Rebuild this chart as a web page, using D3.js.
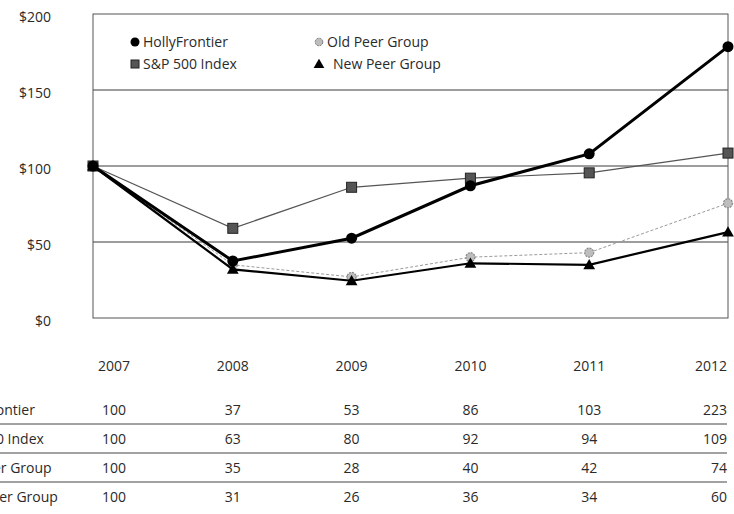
<!DOCTYPE html>
<html>
<head>
<meta charset="utf-8">
<script src="https://cdn.jsdelivr.net/npm/d3@7"></script>
<style>
  body { margin: 0; background: #fff; }
  text { font-family: "Open Sans", sans-serif; fill: #2a2a2a; }
</style>
</head>
<body>
<div class="container"></div>
<script>
// data
const years = ['2007', '2008', '2009', '2010', '2011', '2012'];
const seriesNames = ['HollyFrontier', 'S&P 500 Index', 'Old Peer Group', 'New Peer Group'];

// values as plotted on the chart
const hollyFrontier = [100, 37.5, 52.5, 87, 108, 178.5];
const sp500 = [100, 59, 86, 92, 95.5, 108.5];
const oldPeer = [100, 35, 27, 40, 43, 75.5];
const newPeer = [100, 32, 24.5, 36, 35, 56.5];

// values printed in the table
const hollyFrontierTable = [100, 37, 53, 86, 103, 223];
const sp500Table = [100, 63, 80, 92, 94, 109];
const oldPeerTable = [100, 35, 28, 40, 42, 74];
const newPeerTable = [100, 31, 26, 36, 34, 60];

const yTicks = [0, 50, 100, 150, 200];

const width = 734;
const height = 514;

const plot = { left: 93, right: 728, top: 14, bottom: 318 };

const svg = d3.select('.container')
    .append('svg')
    .attr('width', width)
    .attr('height', height);

const yScale = d3.scaleLinear()
    .domain([0, 200])
    .range([plot.bottom, plot.top]);

// table columns
const colX = d3.scalePoint()
    .domain(years)
    .range([114, 708]);

// chart x: first/last year on the frame edges, middle years under table columns
const xChart = i => i === 0 ? plot.left : (i === years.length - 1 ? plot.right : colX(years[i]));

// grid lines
svg.append('g')
    .selectAll('line')
    .data([50, 100, 150])
    .join('line')
    .attr('x1', plot.left)
    .attr('x2', plot.right)
    .attr('y1', d => yScale(d))
    .attr('y2', d => yScale(d))
    .attr('stroke', '#3a3a3a')
    .attr('stroke-width', 1);

// frame
svg.append('rect')
    .attr('x', plot.left)
    .attr('y', plot.top)
    .attr('width', plot.right - plot.left)
    .attr('height', plot.bottom - plot.top)
    .attr('fill', 'none')
    .attr('stroke', '#555')
    .attr('stroke-width', 1);

// y labels
const yAxis = d3.axisLeft(yScale)
    .tickValues(yTicks)
    .tickFormat(d => '$' + d)
    .tickSize(0)
    .tickPadding(0);

const gYAxis = svg.append('g')
    .attr('transform', 'translate(51, 3)')
    .call(yAxis);
gYAxis.select('.domain').remove();
gYAxis.selectAll('text')
    .attr('font-size', 14)
    .attr('font-family', '"Open Sans", sans-serif')
    .attr('fill', '#2a2a2a');

const series = [
    { name: seriesNames[0], values: hollyFrontier, color: '#000', width: 3, dash: null, marker: 'circle' },
    { name: seriesNames[1], values: sp500, color: '#555', width: 1.2, dash: null, marker: 'square' },
    { name: seriesNames[2], values: oldPeer, color: '#9a9a9a', width: 1, dash: '3,2', marker: 'old' },
    { name: seriesNames[3], values: newPeer, color: '#000', width: 2.2, dash: null, marker: 'triangle' }
];

const line_generator = d3.line()
    .x((d, i) => xChart(i))
    .y(d => yScale(d));

function drawMarker(g, type, x, y) {
    if (type === 'circle') {
        g.append('circle').attr('cx', x).attr('cy', y).attr('r', 5.5).attr('fill', '#000');
    } else if (type === 'square') {
        g.append('rect').attr('x', x - 5).attr('y', y - 5).attr('width', 10).attr('height', 10)
            .attr('fill', '#555').attr('stroke', '#222').attr('stroke-width', 1);
    } else if (type === 'old') {
        g.append('circle').attr('cx', x).attr('cy', y).attr('r', 4.5)
            .attr('fill', '#bdbdbd').attr('stroke', '#888').attr('stroke-width', 1.2)
            .attr('stroke-dasharray', '2,1');
    } else {
        g.append('path')
            .attr('d', d3.symbol(d3.symbolTriangle, 60)())
            .attr('transform', `translate(${x}, ${y + 1})`)
            .attr('fill', '#000');
    }
}

// draw back to front
[2, 1, 3, 0].forEach(k => {
    const s = series[k];
    const g = svg.append('g');
    g.append('path')
        .attr('d', line_generator(s.values))
        .attr('fill', 'none')
        .attr('stroke', s.color)
        .attr('stroke-width', s.width)
        .attr('stroke-dasharray', s.dash);
    s.values.forEach((v, i) => drawMarker(g, s.marker, xChart(i), yScale(v)));
});

// legend
const legendPos = [[135, 42], [135, 64], [319, 42], [319, 64]];
series.forEach((s, k) => {
    const g = svg.append('g');
    const [lx, ly] = legendPos[k];
    if (s.marker === 'circle') {
        g.append('circle').attr('cx', lx).attr('cy', ly).attr('r', 4.5).attr('fill', '#000');
    } else if (s.marker === 'square') {
        g.append('rect').attr('x', lx - 4).attr('y', ly - 4).attr('width', 8).attr('height', 8)
            .attr('fill', '#555').attr('stroke', '#222');
    } else if (s.marker === 'old') {
        g.append('circle').attr('cx', lx).attr('cy', ly).attr('r', 3.8)
            .attr('fill', '#bdbdbd').attr('stroke', '#777').attr('stroke-dasharray', '2,1');
    } else {
        g.append('path').attr('d', d3.symbol(d3.symbolTriangle, 50)())
            .attr('transform', `translate(${lx}, ${ly + 1})`).attr('fill', '#000');
    }
    g.append('text')
        .attr('x', lx + (s.marker === 'triangle' ? 14 : 8))
        .attr('y', ly)
        .attr('dy', '0.35em')
        .attr('font-size', 14)
        .text(s.name);
});

// table
const tableRows = [hollyFrontierTable, sp500Table, oldPeerTable, newPeerTable];
const rowY = [410, 439, 468, 497];

const anchor = i => i === years.length - 1 ? 'end' : 'middle';
const tx = i => i === years.length - 1 ? 727 : colX(years[i]);

svg.append('g')
    .selectAll('text')
    .data(years)
    .join('text')
    .attr('x', (d, i) => tx(i))
    .attr('y', 366)
    .attr('dy', '0.35em')
    .attr('text-anchor', (d, i) => anchor(i))
    .attr('font-size', 14)
    .text(d => d);

tableRows.forEach((row, r) => {
    const g = svg.append('g');
    g.append('text')
        .attr('x', -50)
        .attr('y', rowY[r])
        .attr('dy', '0.35em')
        .attr('font-size', 14)
        .text(seriesNames[r]);
    g.selectAll('text.val')
        .data(row)
        .join('text')
        .attr('class', 'val')
        .attr('x', (d, i) => tx(i))
        .attr('y', rowY[r])
        .attr('dy', '0.35em')
        .attr('text-anchor', (d, i) => anchor(i))
        .attr('font-size', 14)
        .text(d => d);
});

// row separators
svg.append('g')
    .selectAll('line')
    .data([424, 453, 482])
    .join('line')
    .attr('x1', 0)
    .attr('x2', 727)
    .attr('y1', d => d)
    .attr('y2', d => d)
    .attr('stroke', '#444')
    .attr('stroke-width', 1);
</script>
</body>
</html>
